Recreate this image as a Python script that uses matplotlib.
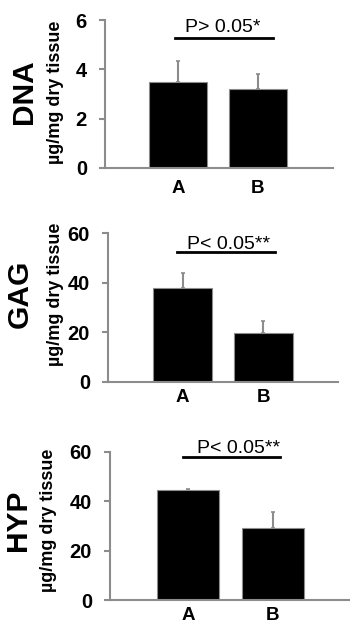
import matplotlib
matplotlib.use("Agg")
import matplotlib.pyplot as plt

plt.rcParams["font.family"] = ["Liberation Sans", "DejaVu Sans"]

groups = ["A", "B"]

dna_mean = [3.5, 3.2]
dna_err = [0.85, 0.6]
gag_mean = [37.8, 19.6]
gag_err = [6.3, 4.9]
hyp_mean = [44.3, 29.0]
hyp_err = [0.7, 6.5]

W, H = 350, 631

panels = [
    # name, means, errs, ymax, yticks, p-text, (line y, line x0, x1, text x,
    # text y), axes rect, xlim, (name x, unit x, label centre y) px, xpad
    ("DNA", dna_mean, dna_err, 6, [0, 2, 4, 6], "P> 0.05*",
     (5.26, -0.04, 1.19, 0.56, 5.53),
     [0.300, 0.7338, 0.651, 0.2345], (-0.9125, 1.9375), (24, 55.5, 92), 9),
    ("GAG", gag_mean, gag_err, 60, [0, 20, 40, 60], "P< 0.05**",
     (52.3, -0.07, 1.14, 0.57, 53.5),
     [0.3086, 0.3951, 0.657, 0.2352], (-0.92, 1.92), (20, 56, 294), 5),
    ("HYP", hyp_mean, hyp_err, 60, [0, 20, 40, 60], "P< 0.05**",
     (57.7, -0.06, 1.09, 0.59, 59.6),
     [0.3143, 0.0491, 0.684, 0.2351], (-0.923, 1.905), (17.5, 48.5, 520), 5),
]

GRAY = "#8c8c8c"

fig = plt.figure(figsize=(W / 100, H / 100), dpi=100)

for name, means, errs, ymax, ticks, ptxt, sig, rect, xlim, lab, xpad in panels:
    ax = fig.add_axes(rect)
    x = list(range(len(groups)))
    ax.bar(x, means, width=0.73, color="black", edgecolor=GRAY,
           linewidth=0.8, zorder=2)
    ax.errorbar(x, means, yerr=[[0] * len(errs), errs], fmt="none",
                ecolor=GRAY, elinewidth=1.5, capsize=1.5, capthick=1.2,
                zorder=1)
    ax.set_xlim(*xlim)
    ax.set_ylim(0, ymax)
    ax.set_yticks(ticks)
    ax.set_yticklabels([str(t) for t in ticks], fontsize=14.5,
                       fontweight="bold")
    ax.set_xticks(x)
    ax.set_xticklabels(groups, fontsize=13.5, fontweight="bold")
    ax.tick_params(axis="x", length=0, pad=xpad)
    ax.tick_params(axis="y", length=4.5, width=1.5, color=GRAY, pad=8.5)
    for s in ("top", "right"):
        ax.spines[s].set_visible(False)
    for s in ("left", "bottom"):
        ax.spines[s].set_color(GRAY)
        ax.spines[s].set_linewidth(1.5)
    ax.spines["left"].set_zorder(3)

    # significance bar
    ly, lx0, lx1, tx, ty = sig
    ax.plot([lx0, lx1], [ly, ly], color="black", lw=2.0,
            clip_on=False, zorder=3)
    ax.text(tx, ty, ptxt, ha="center", va="baseline",
            fontsize=14, clip_on=False)

    # side labels
    nx, ux, cy = lab
    fig.text(nx / W, 1 - cy / H, name, rotation=90, ha="center",
             va="center", fontsize=21.5, fontweight="bold")
    fig.text(ux / W, 1 - cy / H, "µg/mg dry tissue", rotation=90,
             ha="center", va="center", fontsize=13, fontweight="bold")

fig.savefig("out.png", dpi=100)
